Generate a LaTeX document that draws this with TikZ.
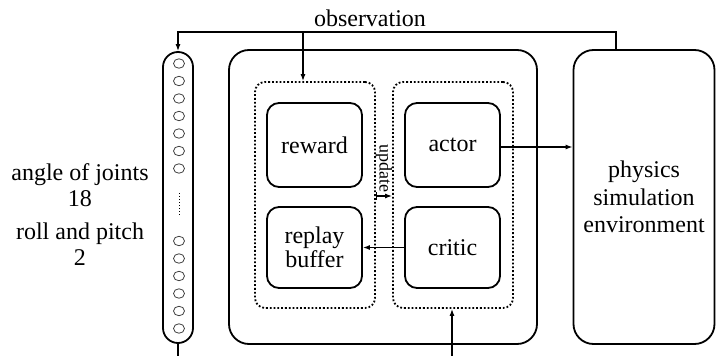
\documentclass[tikz,border=0pt]{standalone}
\usepackage{fontspec}
\setmainfont{Liberation Serif}
\usetikzlibrary{arrows.meta,shapes.geometric}

\tikzset{
  blk/.style={draw,line width=1.8pt,rounded corners=12pt,align=center},
  grp/.style={draw,line width=1.8pt,dotted,rounded corners=10pt,minimum width=120pt,minimum height=226pt},
  big/.style={draw,line width=1.8pt,rounded corners=20pt,align=center},
  neuron/.style={draw=black!75,line width=0.8pt,ellipse,minimum width=11pt,minimum height=9.5pt,inner sep=0pt},
  lbl/.style={align=center}
}

\begin{document}
\begin{tikzpicture}[x=1pt,y=-1pt,>={Latex[length=7pt,width=5pt]},line width=1.2pt,
    font=\fontsize{24}{27.5}\selectfont]
			\useasboundingbox (0,0) rectangle (716,356);
			% input layer
			\draw (178,197.5) node [draw,line width=1.8pt,rounded corners=15pt,minimum width=30pt,minimum height=291pt] (inlayer) {};
			\foreach \i in {0,...,6}
				\draw (179,63.5+17.5*\i) node [neuron] (top\i) {};
			\foreach \i in {0,...,5}
				\draw (179,241+17.5*\i) node [neuron] (bot\i) {};
			\draw [line width=1pt,dotted] (top6 |- 0,193) -- (top6 |- 0,216);
			\draw (80,185) node [lbl] (joints) {angle of joints\\[-1pt]18};
			\draw (80,244) node [lbl] (rollpitch) {roll and pitch\\[-1pt]2};
			% agent
			\draw (383,197) node [big,minimum width=308pt,minimum height=294pt] (agent) {};
			\draw (315,195) node [grp] (leftgrp) {};
			\draw (453,195) node [grp] (rightgrp) {};
			\draw (314.5,145) node [blk,minimum width=95pt,minimum height=84pt] (reward) {reward};
			\draw (314.5,247.5) node [blk,minimum width=95pt,minimum height=81pt] (replay) {replay\\[-3pt]buffer};
			\draw (452.5,145) node [blk,minimum width=95pt,minimum height=84pt] (actor) {actor};
			\draw (452.5,247.5) node [blk,minimum width=95pt,minimum height=81pt] (critic) {critic};
			% environment
			\draw (644,197) node [big,minimum width=141pt,minimum height=294pt] (env) {physics\\simulation\\environment};
			\draw (370,18) node (obslabel) {observation};
			\coordinate (obs) at (303,32);
			\coordinate (inbot) at (178,356);
			\coordinate (critin) at (452,356);
			\draw [->] ([xshift=-28pt]env.north) |- (obs) -| (inlayer.north);
			\draw [->] (obs) -- (obs |- leftgrp.north);
			\draw (inlayer.south) -- (inbot);
			\draw [->] (critin) -- (critin |- rightgrp.south);
			\draw [->] ([yshift=-2pt]actor.east) -- ([yshift=-2pt]env.west |- actor.east);
			\draw [->] (critic.west) -- (replay.east);
			\draw [|->] ([yshift=-1pt]leftgrp.east) -- ([yshift=-1pt]rightgrp.west)
				node [midway,rotate=-90,anchor=east,inner sep=3pt,font=\fontsize{18}{20}\selectfont] (upd) {update};
		\end{tikzpicture}
\end{document}
